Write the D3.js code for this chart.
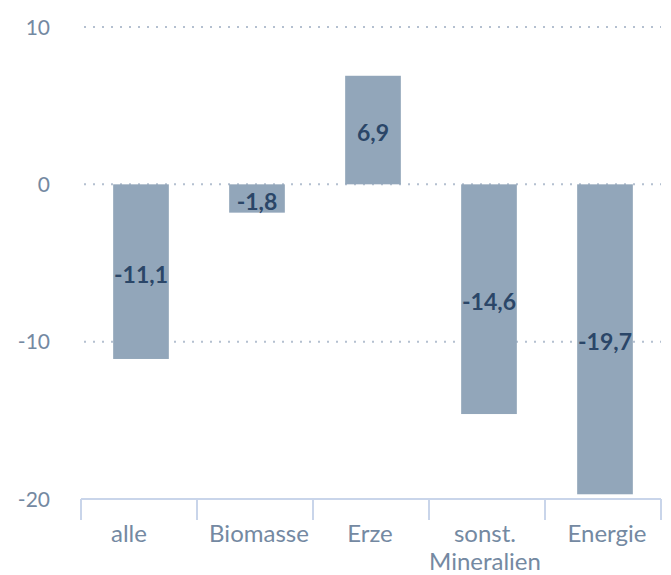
<!DOCTYPE html>
<html><head><meta charset="utf-8">
<script src="https://cdn.jsdelivr.net/npm/d3@7"></script>
<style>body{margin:0;background:#fff;} svg{display:block;}</style>
</head><body>
<svg id="c" width="671" height="575"></svg>
<script>
const categories = ["alle", "Biomasse", "Erze", "sonst.\nMineralien", "Energie"];
const values = [-11.1, -1.8, 6.9, -14.6, -19.7];
const yTicks = [10, 0, -10, -20];

const svg = d3.select("#c");
const font = "Lato, 'Source Sans Pro', sans-serif";
const mLeft = 81, mRight = 661, mTop = 27, mBottom = 499;
const x = d3.scaleBand().domain(categories).range([mLeft, mRight]).paddingInner(0.52).paddingOuter(0.26);
const y = d3.scaleLinear().domain([-20, 10]).range([mBottom, mTop]);
const fmt = v => d3.format(".1f")(v).replace("−", "-").replace(".", ",");

// grid
svg.append("g").selectAll("line").data(yTicks.filter(t => t > -20)).join("line")
  .attr("x1", mLeft + 3).attr("x2", mRight).attr("y1", d => y(d)).attr("y2", d => y(d))
  .attr("stroke", "#b4c0d0").attr("stroke-width", 2).attr("stroke-dasharray", "2,7");

// y labels
svg.append("g").selectAll("text").data(yTicks).join("text")
  .attr("x", 50).attr("y", d => y(d)).attr("dy", "0.36em").attr("text-anchor", "end")
  .attr("font-family", font).attr("font-size", 21).attr("fill", "#7489a2").text(d => String(d));

// bars
const offs = 2;
svg.append("g").selectAll("rect").data(values).join("rect")
  .attr("x", (d, i) => x(categories[i]) + offs).attr("width", x.bandwidth())
  .attr("y", d => y(Math.max(0, d))).attr("height", d => Math.abs(y(d) - y(0)))
  .attr("fill", "#92a6ba");

// value labels
svg.append("g").selectAll("text").data(values).join("text")
  .attr("x", (d, i) => x(categories[i]) + offs + x.bandwidth() / 2)
  .attr("y", d => (y(d) + y(0)) / 2).attr("dy", "0.48em").attr("text-anchor", "middle")
  .attr("font-family", font).attr("font-weight", "bold").attr("font-size", 23).attr("fill", "#2b4668")
  .text(d => fmt(d));

// x axis
const ax = svg.append("g");
ax.append("line").attr("x1", mLeft).attr("x2", mRight).attr("y1", mBottom).attr("y2", mBottom)
  .attr("stroke", "#c9d5ea").attr("stroke-width", 2);
const bounds = categories.map(c => x(c) - x.step() * x.paddingInner() / 2).concat([mRight]);
ax.selectAll("line.t").data(bounds).join("line").attr("class", "t")
  .attr("x1", d => d).attr("x2", d => d).attr("y1", mBottom).attr("y2", mBottom + 21)
  .attr("stroke", "#c9d5ea").attr("stroke-width", 2);
const labelDx = [-10, 4, -1, -2, 4];
categories.forEach((c, i) => {
  const cx = x(c) + x.bandwidth() / 2 + labelDx[i];
  const t = ax.append("text").attr("x", cx).attr("y", 542)
    .attr("text-anchor", "middle").attr("font-family", font).attr("font-size", 24).attr("fill", "#7489a2");
  c.split("\n").forEach((l, j) => t.append("tspan").attr("x", cx).attr("dy", j ? 28 : 0).text(l));
});
</script>
</body></html>
